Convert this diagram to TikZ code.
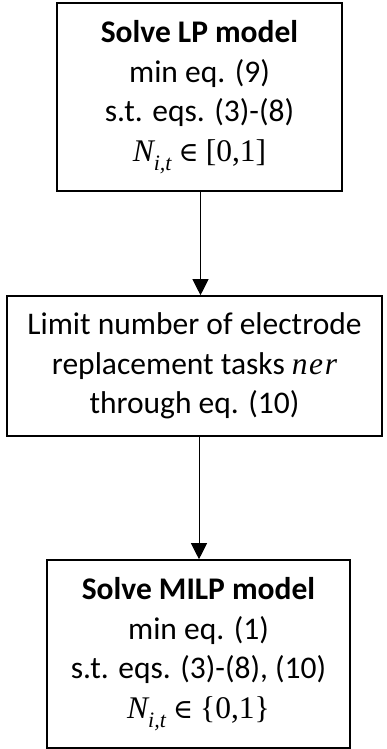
\documentclass[tikz,border=0pt]{standalone}
\usepackage[no-math]{fontspec}
\setmainfont{Carlito}
\newfontfamily\mf{Liberation Serif}
\newfontfamily\symf{DejaVu Serif}
\usetikzlibrary{arrows.meta}
\newcommand{\Nit}{{\mf\itshape N}\raisebox{-0.28em}{\fontsize{22}{22}\selectfont\mf\itshape i,t}}
\newcommand{\elt}{{\symf\fontsize{27}{27}\selectfont ∈}}
\begin{document}
\begin{tikzpicture}[x=1pt,y=1pt,
  stepbox/.style={draw=black, line width=1.6pt, align=center, inner sep=0pt,
    font=\fontsize{31.5}{39.5}\selectfont},
  arr/.style={line width=1pt, -{Triangle[length=16pt,width=16pt]}}]
\useasboundingbox (0,0) rectangle (386,-749);
\node[stepbox, minimum width=285pt, minimum height=188pt] (b1) at (199.5,-97)
  {\textbf{Solve LP model}\\min eq. (9)\\s.t. eqs. (3)-(8)\\\Nit\ \elt\ {\mf [0,1]}};
\node[stepbox, minimum width=375pt, minimum height=140pt] (b2) at (194.5,-366)
  {Limit number of electrode\\replacement tasks {\mf\itshape n\kern0.05em e\kern0.05em r}\\through eq. (10)};
\node[stepbox, minimum width=303pt, minimum height=188pt] (b3) at (198.5,-654)
  {\textbf{Solve MILP model}\\min eq. (1)\\s.t. eqs. (3)-(8), (10)\\\Nit\ \elt\ {\mf \{0,1\}}};
\coordinate (a1) at (200.5,0);
\coordinate (a2) at (199,0);
\draw[arr] (a1 |- b1.south) -- (a1 |- b2.north);
\draw[arr] (a2 |- b2.south) -- (a2 |- b3.north);
\end{tikzpicture}
\end{document}
